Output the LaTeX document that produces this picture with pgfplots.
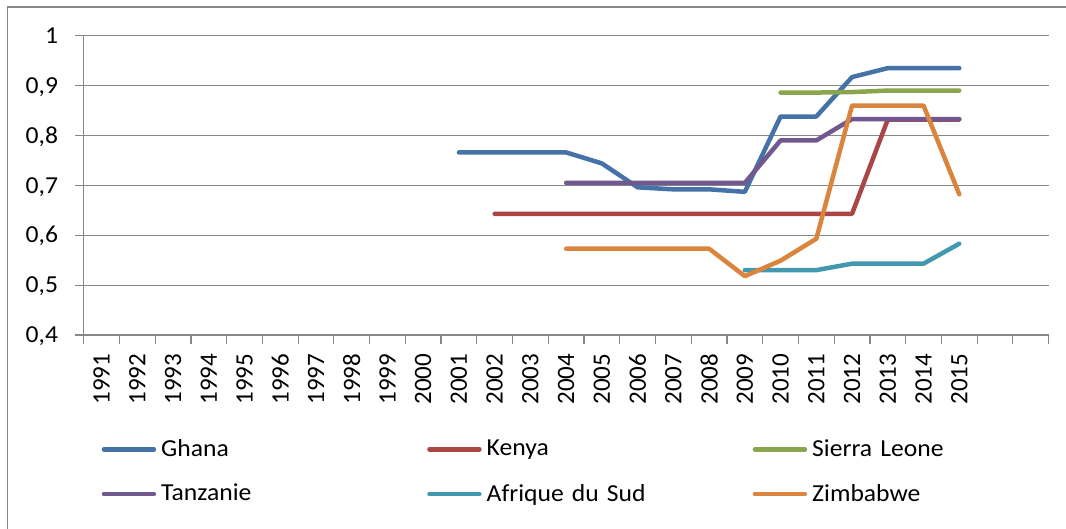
\documentclass[border=0pt]{standalone}
\usepackage{fontspec}
\setmainfont{Carlito}[FakeStretch=1.05]
\newfontfamily\yearfont{Carlito}
\usepackage{pgfplots}
\pgfplotsset{compat=1.18}
\definecolor{gridgray}{HTML}{878787}
\definecolor{cGhana}{HTML}{4572A7}
\definecolor{cKenya}{HTML}{AA4643}
\definecolor{cSierra}{HTML}{89A54E}
\definecolor{cTanz}{HTML}{71588F}
\definecolor{cAfr}{HTML}{4198AF}
\definecolor{cZim}{HTML}{DB843D}
\begin{document}
\begin{tikzpicture}[x=1pt,y=1pt]
\useasboundingbox (0,0) rectangle (533,264.5);
\draw[color=gridgray, line width=0.6pt] (3.8,0) -- (3.8,261) -- (533,261);
\begin{axis}[
  at={(41.85pt,97pt)}, anchor=south west,
  scale only axis, width=482.45pt, height=149.65pt,
  xmin=-0.5, xmax=26.5, ymin=0.4, ymax=1,
  axis lines=left, axis line style={-, color=gridgray, line width=0.6pt},
  xtick={0,1,2,3,4,5,6,7,8,9,10,11,12,13,14,15,16,17,18,19,20,21,22,23,24},
  xticklabels={1991,1992,1993,1994,1995,1996,1997,1998,1999,2000,2001,2002,2003,2004,2005,2006,2007,2008,2009,2010,2011,2012,2013,2014,2015},
  minor xtick={-0.5,0.5,1.5,2.5,3.5,4.5,5.5,6.5,7.5,8.5,9.5,10.5,11.5,12.5,13.5,14.5,15.5,16.5,17.5,18.5,19.5,20.5,21.5,22.5,23.5,24.5,25.5,26.5},
  ytick={0.4,0.5,0.6,0.7,0.8,0.9,1},
  yticklabels={{0,4},{0,5},{0,6},{0,7},{0,8},{0,9},{1}},
  minor ytick={0.4,0.5,0.6,0.7,0.8,0.9,1},
  major tick length=0pt, minor tick length=4.3pt, tick align=outside,
  tick style={color=gridgray, line width=0.6pt},
  ymajorgrids, major grid style={color=gridgray, line width=0.6pt},
  xticklabel style={font=\yearfont\fontsize{12.5}{13}\selectfont, yshift=-9.15pt, rotate=90, anchor=east, inner sep=0pt},
  yticklabel style={font=\fontsize{12.2}{14}\selectfont, anchor=base east, inner sep=0pt, xshift=-12.6pt, yshift=-3.85pt},
  every axis plot/.append style={line width=2.25pt, line cap=round, line join=round, mark=none},
  legend image code/.code={\draw[#1] (0pt,0pt) -- (25pt,0pt);},
  legend cell align=left,
  legend columns=3,
  legend style={at={(0.01865,-0.3486)}, anchor=north west, draw=none, fill=none, inner sep=0pt, outer sep=0pt,
    font=\fontsize{12.2}{14}\selectfont, row sep=12.4pt,
    nodes={text width=130.5pt, align=left, inner xsep=2.5pt, inner ysep=0pt}},
  clip=false,
]
\addplot[cGhana] coordinates {(10,0.766)(11,0.766)(12,0.766)(13,0.766)(14,0.744)(15,0.696)(16,0.692)(17,0.692)(18,0.687)(19,0.838)(20,0.838)(21,0.917)(22,0.935)(23,0.935)(24,0.935)};
\addlegendentry{Ghana}
\addplot[cKenya] coordinates {(11,0.643)(12,0.643)(13,0.643)(14,0.643)(15,0.643)(16,0.643)(17,0.643)(18,0.643)(19,0.643)(20,0.643)(21,0.643)(22,0.832)(23,0.832)(24,0.832)};
\addlegendentry{Kenya}
\addplot[cSierra] coordinates {(19,0.886)(20,0.886)(21,0.887)(22,0.890)(23,0.890)(24,0.890)};
\addlegendentry{Sierra Leone}
\addplot[cTanz] coordinates {(13,0.705)(14,0.705)(15,0.705)(16,0.705)(17,0.705)(18,0.705)(19,0.790)(20,0.790)(21,0.833)(22,0.833)(23,0.833)(24,0.833)};
\addlegendentry{Tanzanie}
\addplot[cAfr] coordinates {(18,0.530)(19,0.530)(20,0.530)(21,0.543)(22,0.543)(23,0.543)(24,0.583)};
\addlegendentry{Afrique du Sud}
\addplot[cZim] coordinates {(13,0.573)(14,0.573)(15,0.573)(16,0.573)(17,0.573)(18,0.518)(19,0.549)(20,0.593)(21,0.860)(22,0.860)(23,0.860)(24,0.682)};
\addlegendentry{Zimbabwe}
\end{axis}
\end{tikzpicture}
\end{document}
